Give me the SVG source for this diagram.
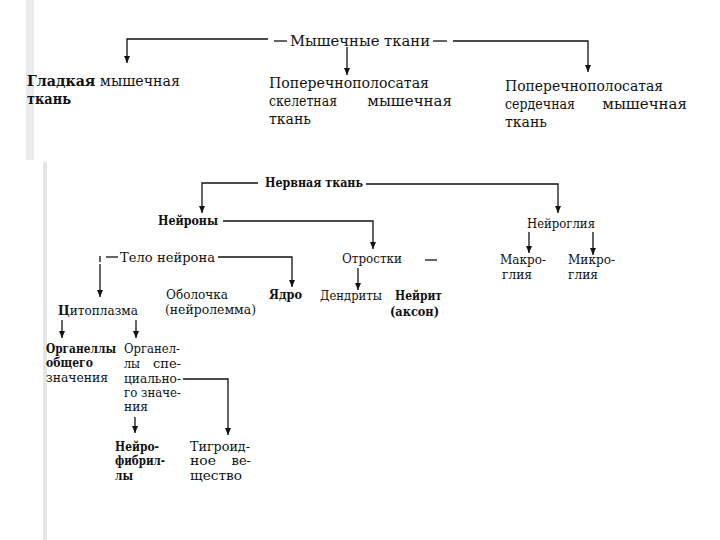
<svg xmlns="http://www.w3.org/2000/svg" width="720" height="540" viewBox="0 0 720 540" font-family="'DejaVu Serif',serif">
<style>
text{font-family:"DejaVu Serif","Liberation Serif",serif;fill:#111;}
.t{font-size:15px;}
.s{font-size:13px;}
.b{font-weight:bold;}
.c line,.c polyline{stroke:#111;stroke-width:1.3;fill:none;}
</style>
<defs>
<marker id="ad" markerUnits="userSpaceOnUse" markerWidth="8" markerHeight="8" refX="7" refY="3" orient="auto" viewBox="0 0 8 6">
<path d="M0,0 L7,3 L0,6 Z" fill="#111"/>
</marker>
</defs>
<rect x="0" y="0" width="720" height="540" fill="#fff"/>
<rect x="26" y="0" width="8" height="160" fill="#ebebeb"/>
<rect x="43" y="162" width="4" height="378" fill="#e6e6e6"/>

<g class="c" id="connectors">
<polyline points="268,39 127,39 127,63" marker-end="url(#ad)"/>
<line x1="274" y1="41" x2="287" y2="41"/>
<line x1="433" y1="41" x2="447" y2="41"/>
<polyline points="453,41 588,41 588,72" marker-end="url(#ad)"/>
<line x1="347" y1="47" x2="347" y2="75" marker-end="url(#ad)"/>

<polyline points="258,183 202,183 202,213" marker-end="url(#ad)"/>
<polyline points="366,184 558,184 558,213" marker-end="url(#ad)"/>
<polyline points="223,221 373,221 373,249" marker-end="url(#ad)"/>
<polyline points="100,262 100,256"/>
<line x1="106" y1="257" x2="118" y2="257"/>
<polyline points="218,257 292,257 292,287" marker-end="url(#ad)"/>
<line x1="100" y1="264" x2="100" y2="297" stroke-width="1" marker-end="url(#ad)"/>
<line x1="358" y1="268" x2="358" y2="290" stroke-width="2" marker-end="url(#ad)"/>
<line x1="425" y1="260" x2="437" y2="260" stroke-width="1"/>
<line x1="529" y1="232" x2="529" y2="253" marker-end="url(#ad)"/>
<line x1="593" y1="232" x2="593" y2="255" marker-end="url(#ad)"/>
<line x1="62" y1="320" x2="62" y2="338" marker-end="url(#ad)"/>
<line x1="136" y1="320" x2="136" y2="338" marker-end="url(#ad)"/>
<polyline points="183,379 228,379 228,435" marker-end="url(#ad)"/>
<line x1="135" y1="417" x2="135" y2="433" stroke-width="1" marker-end="url(#ad)"/>
</g>

<g id="muscle"><text class="t" x="290" y="46" textLength="140" lengthAdjust="spacingAndGlyphs">Мышечные ткани</text></g>
<g id="smooth">
<text class="t" x="27" y="86" textLength="153" lengthAdjust="spacingAndGlyphs"><tspan class="b">Гладкая</tspan> мышечная</text>
<text class="t b" x="27" y="104" textLength="44" lengthAdjust="spacingAndGlyphs">ткань</text>
</g>
<g id="skeletal">
<text class="t" x="269" y="88" textLength="160" lengthAdjust="spacingAndGlyphs">Поперечнополосатая</text>
<text class="t" x="269" y="106" textLength="68" lengthAdjust="spacingAndGlyphs">скелетная</text>
<text class="t" x="452" y="106" text-anchor="end">мышечная</text>
<text class="t" x="269" y="124" textLength="42" lengthAdjust="spacingAndGlyphs">ткань</text>
</g>
<g id="cardiac">
<text class="t" x="505" y="91" textLength="158" lengthAdjust="spacingAndGlyphs">Поперечнополосатая</text>
<text class="t" x="505" y="109" textLength="70" lengthAdjust="spacingAndGlyphs">сердечная</text>
<text class="t" x="687" y="109" text-anchor="end">мышечная</text>
<text class="t" x="505" y="127" textLength="42" lengthAdjust="spacingAndGlyphs">ткань</text>
</g>

<g id="nerve"><text class="s b" x="265" y="187" textLength="98" lengthAdjust="spacingAndGlyphs">Нервная ткань</text></g>
<g id="neurons"><text class="s b" x="158" y="225" textLength="60" lengthAdjust="spacingAndGlyphs">Нейроны</text></g>
<g id="body"><text class="s" x="120" y="262" textLength="95" lengthAdjust="spacingAndGlyphs">Тело нейрона</text></g>
<g id="processes"><text class="s" x="342" y="263" textLength="60" lengthAdjust="spacingAndGlyphs">Отростки</text></g>
<g id="glia"><text class="s" x="527" y="228" textLength="68" lengthAdjust="spacingAndGlyphs">Нейроглия</text></g>
<g id="macro">
<text class="s" x="500" y="264" textLength="46" lengthAdjust="spacingAndGlyphs">Макро-</text>
<text class="s" x="502" y="279" textLength="30" lengthAdjust="spacingAndGlyphs">глия</text>
</g>
<g id="micro">
<text class="s" x="568" y="264" textLength="47" lengthAdjust="spacingAndGlyphs">Микро-</text>
<text class="s" x="568" y="279" textLength="30" lengthAdjust="spacingAndGlyphs">глия</text>
</g>
<g id="membrane">
<text class="s" x="166" y="299" textLength="62" lengthAdjust="spacingAndGlyphs">Оболочка</text>
<text class="s" x="165" y="314" textLength="91" lengthAdjust="spacingAndGlyphs">(нейролемма)</text>
</g>
<g id="nucleus"><text class="s b" x="269" y="299" textLength="33" lengthAdjust="spacingAndGlyphs">Ядро</text></g>
<g id="dendrites"><text class="s" x="320" y="300" textLength="62" lengthAdjust="spacingAndGlyphs">Дендриты</text></g>
<g id="neurite">
<text class="s b" x="395" y="300" textLength="47" lengthAdjust="spacingAndGlyphs">Нейрит</text>
<text class="s b" x="390" y="316" textLength="49" lengthAdjust="spacingAndGlyphs">(аксон)</text>
</g>
<g id="cytoplasm"><text class="s" x="58" y="315" textLength="80" lengthAdjust="spacingAndGlyphs"><tspan class="b">Ц</tspan>итоплазма</text></g>
<g id="general">
<text class="b" font-size="12" x="46" y="353" textLength="70" lengthAdjust="spacingAndGlyphs">Органеллы</text>
<text class="s b" x="46" y="367" textLength="47" lengthAdjust="spacingAndGlyphs">общего</text>
<text class="s" x="46" y="382" textLength="62" lengthAdjust="spacingAndGlyphs">значения</text>
</g>
<g id="special">
<text class="s" x="124" y="353" textLength="56" lengthAdjust="spacingAndGlyphs">Органел-</text>
<text class="s" x="124" y="368" textLength="16" lengthAdjust="spacingAndGlyphs">лы</text>
<text class="s" x="181" y="368" text-anchor="end">спе-</text>
<text class="s" x="124" y="383" textLength="57" lengthAdjust="spacingAndGlyphs">циально-</text>
<text class="s" x="124" y="397" textLength="57" lengthAdjust="spacingAndGlyphs">го значе-</text>
<text class="s" x="124" y="411" textLength="24" lengthAdjust="spacingAndGlyphs">ния</text>
</g>
<g id="neurofibrils">
<text class="s b" x="115" y="451" textLength="44" lengthAdjust="spacingAndGlyphs">Нейро-</text>
<text class="s b" x="115" y="465" textLength="50" lengthAdjust="spacingAndGlyphs">фибрил-</text>
<text class="s b" x="115" y="480" textLength="18" lengthAdjust="spacingAndGlyphs">лы</text>
</g>
<g id="tigroid">
<text class="s" x="190" y="451" textLength="60" lengthAdjust="spacingAndGlyphs">Тигроид-</text>
<text class="s" x="190" y="465" textLength="26" lengthAdjust="spacingAndGlyphs">ное</text>
<text class="s" x="251" y="465" text-anchor="end">ве-</text>
<text class="s" x="190" y="480" textLength="52" lengthAdjust="spacingAndGlyphs">щество</text>
</g>
</svg>
